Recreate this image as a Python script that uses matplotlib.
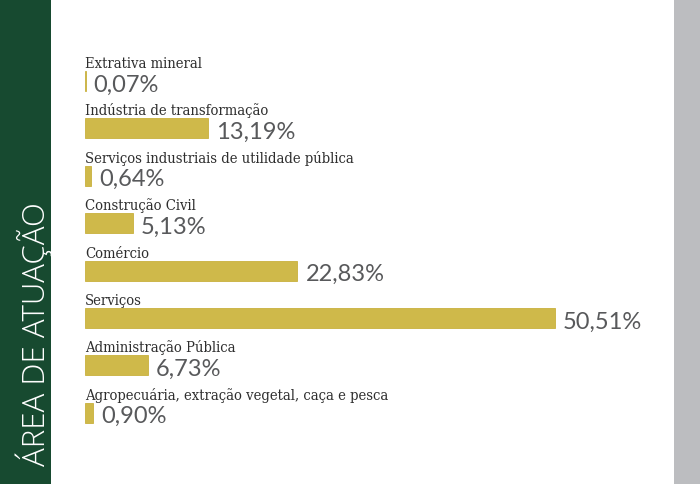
import matplotlib
matplotlib.use("Agg")
import matplotlib.pyplot as plt
from matplotlib.patches import Rectangle
from matplotlib import transforms
from matplotlib import font_manager

categories = [
    "Extrativa mineral",
    "Indústria de transformação",
    "Serviços industriais de utilidade pública",
    "Construção Civil",
    "Comércio",
    "Serviços",
    "Administração Pública",
    "Agropecuária, extração vegetal, caça e pesca",
]
values = [0.07, 13.19, 0.64, 5.13, 22.83, 50.51, 6.73, 0.90]
value_labels = ["0,07%", "13,19%", "0,64%", "5,13%", "22,83%", "50,51%", "6,73%", "0,90%"]
title = "ÁREA DE ATUAÇÃO"

# pick a condensed serif if available
names = {f.name for f in font_manager.fontManager.ttflist}
cond = [f for f in font_manager.fontManager.ttflist
        if f.name == "DejaVu Serif" and str(f.stretch) in ("condensed", "semi-condensed", "600", "500")]
if "DejaVu Serif Condensed" in names:
    serif_kw = dict(family="DejaVu Serif Condensed", fontsize=10.6)
elif cond:
    serif_kw = dict(family="DejaVu Serif", fontstretch="condensed", fontsize=10.6)
else:
    serif_kw = dict(family="Liberation Serif", fontsize=11.5)

W, H = 700, 485
fig = plt.figure(figsize=(W / 100, H / 100), dpi=100)
fig.patch.set_facecolor("white")

fig.patches.append(Rectangle((0, 0), 51 / W, 1, transform=fig.transFigure,
                             facecolor="#174a30", edgecolor="none", zorder=0))
fig.patches.append(Rectangle((674 / W, 0), 26 / W, 1, transform=fig.transFigure,
                             facecolor="#bcbdc0", edgecolor="none", zorder=0))

fig.text(34 / W, 1 - 334 / H, title, rotation=90, color="white",
         fontsize=22.5, family="Open Sans", fontweight="light",
         ha="center", va="center")

px_per_unit_x = 470 / 50.51
left_px, right_px = 85, 674
ax = fig.add_axes([left_px / W, 0, (right_px - left_px) / W, 1])
ax.set_xlim(0, (right_px - left_px) / px_per_unit_x)
row_px = 47.4
first_center = 82
ytop = -first_center / row_px
ybot = ytop + H / row_px
ax.set_ylim(ybot, ytop)
ax.axis("off")
ax.patch.set_alpha(0)

ypos = list(range(len(categories)))
bar_h = 20 / row_px
ax.barh(ypos, values, height=bar_h, left=0, color="#cfb94a",
        edgecolor="#c9b13c", linewidth=0.6)

offset = transforms.offset_copy(ax.transData, fig=fig, x=8, y=0, units="dots")
for y, cat, v, lab in zip(ypos, categories, values, value_labels):
    ax.text(0, y - 14 / row_px, cat, color="#2e2e2e", ha="left",
            va="baseline", **serif_kw)
    ax.text(v, y + 9.5 / row_px, lab, family="Lato", fontsize=17,
            color="#58595b", ha="left", va="baseline", transform=offset)

fig.savefig("out.png", dpi=100, facecolor=fig.get_facecolor())
